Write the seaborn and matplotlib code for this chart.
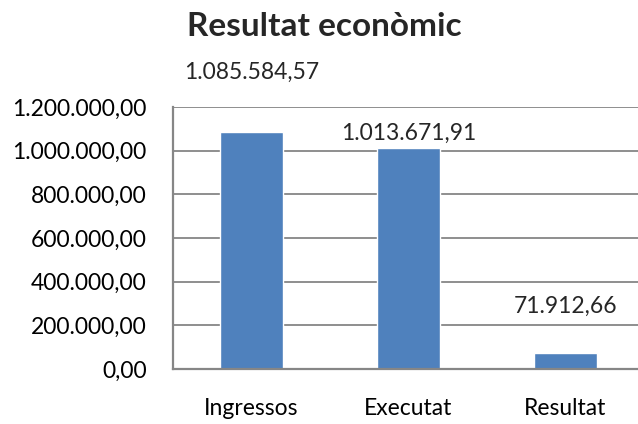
import matplotlib
matplotlib.use("Agg")
import matplotlib.pyplot as plt
import seaborn as sns
import pandas as pd
from matplotlib.ticker import FuncFormatter, MultipleLocator

categories = ["Ingressos", "Executat", "Resultat"]
values = [1085584.57, 1013671.91, 71912.66]
title = "Resultat econòmic"

# how far each data label sits above its bar, in pixels
label_lift = [60, 14, 47]

sns.set_theme(style="white")
plt.rcParams["font.family"] = ["Lato", "DejaVu Sans"]

bar_color = "#4F81BD"
grid_color = "#868686"


def ca_fmt(v, pos=None):
    s = f"{v:,.2f}"
    return s.replace(",", "X").replace(".", ",").replace("X", ".")


df = pd.DataFrame({"cat": categories, "val": values})

fig = plt.figure(figsize=(6.38, 4.24), dpi=100)
ax = fig.add_axes([173 / 638, 55 / 424, 471 / 638, 262 / 424])

sns.barplot(data=df, x="cat", y="val", color=bar_color, width=0.4,
            saturation=1, ax=ax)

ax.set_xlim(-0.5, 2.5)
ax.set_ylim(0, 1200000)
ax.yaxis.set_major_locator(MultipleLocator(200000))
ax.yaxis.set_major_formatter(FuncFormatter(ca_fmt))
ax.grid(axis="y", color=grid_color, linewidth=1.3)
ax.set_axisbelow(True)
ax.set_xlabel("")
ax.set_ylabel("")

for side in ["top", "right"]:
    ax.spines[side].set_visible(False)
for side in ["left", "bottom"]:
    ax.spines[side].set_color(grid_color)
    ax.spines[side].set_linewidth(1.6)

fs = 16.5
ax.tick_params(axis="y", length=0, pad=19, labelsize=fs, colors="black")
ax.tick_params(axis="x", length=0, pad=21, labelsize=fs, colors="black")

for i, (v, lift) in enumerate(zip(values, label_lift)):
    ax.annotate(ca_fmt(v), (i, v), xytext=(0, lift), textcoords="offset pixels",
                ha="center", va="center", fontsize=fs, annotation_clip=False)

fig.text(324 / 638, 1 - 26 / 424, title, ha="center", va="center",
         fontsize=24, fontweight="bold")

fig.savefig("out.png", dpi=100)
